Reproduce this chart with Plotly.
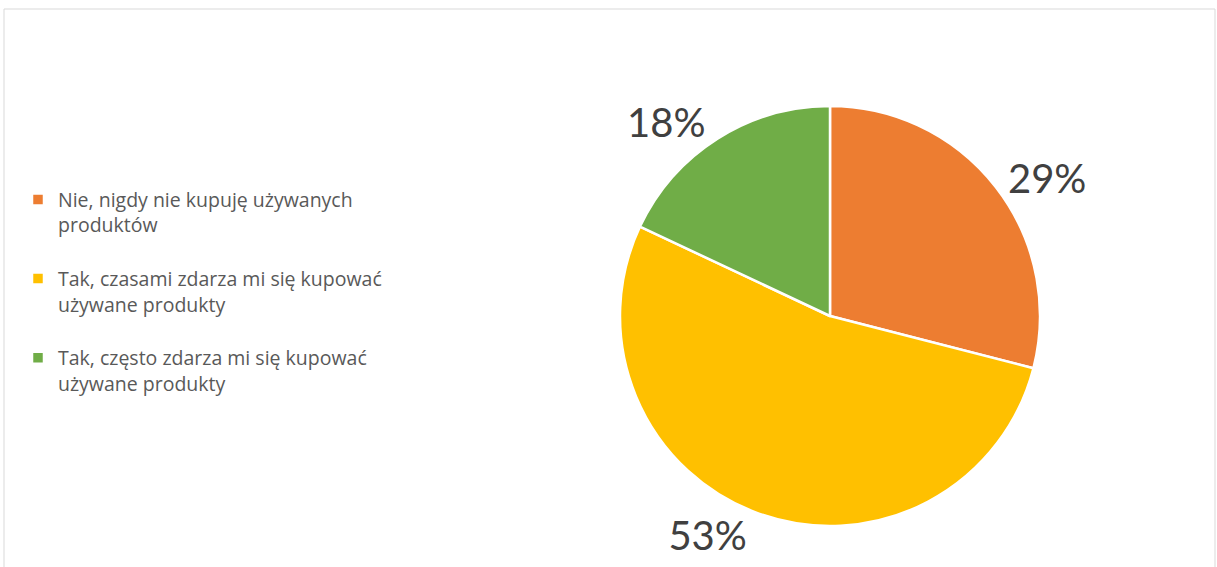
import plotly.graph_objects as go

categories = [
    "Nie, nigdy nie kupuję używanych produktów",
    "Tak, czasami zdarza mi się kupować używane produkty",
    "Tak, często zdarza mi się kupować używane produkty",
]
values = [29, 53, 18]
colors = ["#ED7D31", "#FFC000", "#70AD47"]

# wrap widths (characters) for the legend text
wrap_at = [31, 34, 33]


def wrap(text, width):
    words = text.split(" ")
    lines, cur = [], ""
    for w in words:
        if cur and len(cur) + 1 + len(w) > width:
            lines.append(cur)
            cur = w
        else:
            cur = (cur + " " + w) if cur else w
    lines.append(cur)
    # leading blank line keeps the legend marker level with the first text line
    return "\u00a0<br>" + "<br>".join(lines)


labels = [wrap(c, n) for c, n in zip(categories, wrap_at)]

W, H = 1217, 567
cx, cy, r = 830, 316, 210

fig = go.Figure(
    go.Pie(
        labels=labels,
        values=values,
        sort=False,
        direction="clockwise",
        rotation=0,
        marker=dict(colors=colors, line=dict(color="white", width=2.5)),
        texttemplate="%{percent:.0%}",
        textposition="outside",
        textfont=dict(size=40, color="#404040", family="Lato"),
        domain=dict(x=[(cx - r) / W, (cx + r) / W], y=[1 - (cy + r) / H, 1 - (cy - r) / H]),
        hoverinfo="label+percent",
    )
)

fig.update_layout(
    width=W,
    height=H,
    margin=dict(l=0, r=0, t=0, b=0),
    paper_bgcolor="white",
    plot_bgcolor="white",
    font=dict(family="Open Sans", color="#595959"),
    showlegend=True,
    legend=dict(
        x=18 / W,
        y=1 - 279 / H,
        xanchor="left",
        yanchor="middle",
        font=dict(size=19.5, color="#595959", family="Open Sans"),
        itemwidth=30,
        bgcolor="rgba(0,0,0,0)",
    ),
    shapes=[
        dict(
            type="rect",
            xref="paper",
            yref="paper",
            x0=4 / W,
            x1=1215 / W,
            y0=-0.05,
            y1=1 - 9 / H,
            line=dict(color="#D9D9D9", width=1),
            fillcolor="rgba(0,0,0,0)",
            layer="below",
        )
    ],
)

fig.write_html(
    "out.html",
    config={"displayModeBar": False},
    post_script="document.body.style.margin='0';document.body.style.overflow='hidden';",
)
